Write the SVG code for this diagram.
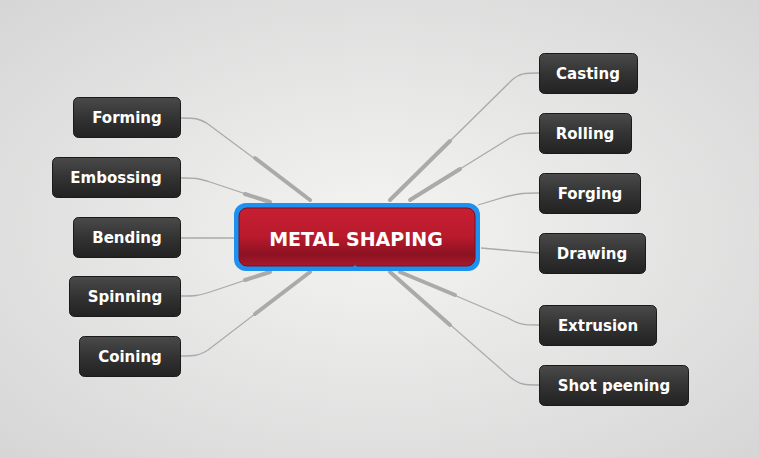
<svg xmlns="http://www.w3.org/2000/svg" width="759" height="458" viewBox="0 0 759 458">
<defs>
<radialGradient id="bg" cx="50%" cy="50%" r="70%"><stop offset="0" stop-color="#f4f4f3"/><stop offset="1" stop-color="#d6d6d6"/></radialGradient>
<linearGradient id="nd" x1="0" y1="0" x2="0" y2="1"><stop offset="0" stop-color="#4a4a4a"/><stop offset="0.5" stop-color="#333"/><stop offset="1" stop-color="#222"/></linearGradient>
<linearGradient id="rd" x1="0" y1="0" x2="0" y2="1"><stop offset="0" stop-color="#c81f32"/><stop offset="0.5" stop-color="#b81a2c"/><stop offset="0.8" stop-color="#8c1222"/><stop offset="1" stop-color="#a8192b"/></linearGradient>
<style>
.n rect{fill:url(#nd);stroke:#1a1a1a;stroke-width:1}
.n text{font-family:Verdana,"DejaVu Sans",sans-serif;font-size:15px;font-weight:bold;fill:#fff;text-anchor:middle}
.t{fill:none;stroke:#aaa;stroke-width:1.3}
.k{fill:none;stroke:#aaa;stroke-width:4;stroke-linecap:round}
</style>
</defs>
<rect width="759" height="458" fill="url(#bg)"/>
<g id="connectors">
<path class="t" d="M181 118 C195 118 198 118 208 124 L310 200"/><path class="k" d="M255 158 L310 200"/>
<path class="t" d="M181 178 C195 178 198 178 210 182 L270 202"/><path class="k" d="M245 194 L270 202"/>
<path class="t" d="M181 238 L235 238"/>
<path class="t" d="M181 296 C195 296 198 296 210 292 L270 272"/><path class="k" d="M245 280 L270 272"/>
<path class="t" d="M181 356 C195 356 198 356 208 350 L310 272"/><path class="k" d="M255 314 L310 272"/>
<path class="t" d="M539 73 C525 73 520 73 512 80 L390 200"/><path class="k" d="M450 141 L390 200"/>
<path class="t" d="M539 133 C525 133 520 133 510 138 L410 200"/><path class="k" d="M460 169 L410 200"/>
<path class="t" d="M539 193 C525 193 520 193 505 197 L478 205"/>
<path class="t" d="M539 253 L481 248"/>
<path class="t" d="M539 325 C525 325 520 325 508 318 L400 272"/><path class="k" d="M455 295 L400 272"/>
<path class="t" d="M539 385 C525 385 520 385 510 377 L390 272"/><path class="k" d="M450 325 L390 272"/>
</g>
<g id="center">
<rect x="234" y="203" width="246" height="68" rx="12" fill="#1e90f0"/>
<rect x="239" y="208" width="236" height="58" rx="8" fill="url(#rd)" stroke="#7e0f1c" stroke-width="1"/>
<path d="M349 270 L355 265 L361 270 Z" fill="#1e90f0"/>
<text x="356" y="246" font-family="Verdana,'DejaVu Sans',sans-serif" font-size="19" font-weight="bold" fill="#fff" text-anchor="middle">METAL SHAPING</text>
</g>
<g id="forming" class="n"><rect x="73.5" y="97.5" width="107" height="40" rx="5"/><text x="127" y="123">Forming</text></g>
<g id="embossing" class="n"><rect x="52.5" y="157.5" width="128" height="40" rx="5"/><text x="116" y="183">Embossing</text></g>
<g id="bending" class="n"><rect x="73.5" y="217.5" width="107" height="40" rx="5"/><text x="127" y="243">Bending</text></g>
<g id="spinning" class="n"><rect x="69.5" y="276.5" width="111" height="40" rx="5"/><text x="125" y="302">Spinning</text></g>
<g id="coining" class="n"><rect x="79.5" y="336.5" width="101" height="40" rx="5"/><text x="130" y="362">Coining</text></g>
<g id="casting" class="n"><rect x="539.5" y="53.5" width="98" height="40" rx="5"/><text x="588" y="79">Casting</text></g>
<g id="rolling" class="n"><rect x="539.5" y="113.5" width="92" height="40" rx="5"/><text x="585" y="139">Rolling</text></g>
<g id="forging" class="n"><rect x="539.5" y="173.5" width="101" height="40" rx="5"/><text x="590" y="199">Forging</text></g>
<g id="drawing" class="n"><rect x="539.5" y="233.5" width="106" height="40" rx="5"/><text x="592" y="259">Drawing</text></g>
<g id="extrusion" class="n"><rect x="539.5" y="305.5" width="117" height="40" rx="5"/><text x="598" y="331">Extrusion</text></g>
<g id="shot-peening" class="n"><rect x="539.5" y="365.5" width="149" height="40" rx="5"/><text x="614" y="391">Shot peening</text></g>
</svg>
